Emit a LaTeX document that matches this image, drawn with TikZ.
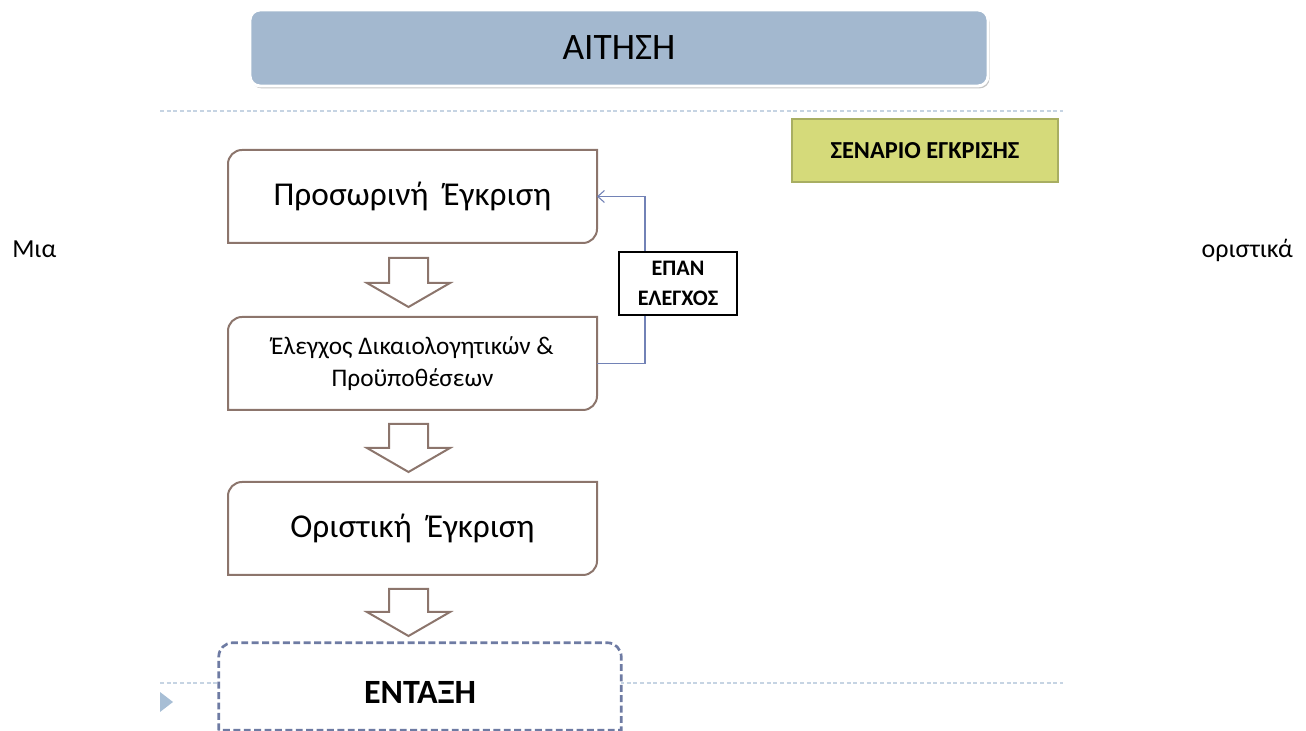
\documentclass[tikz,border=0pt]{standalone}
\usepackage{fontspec}
\setmainfont{Carlito}
\usetikzlibrary{arrows.meta,shadows}

\definecolor{titlefill}{HTML}{A3B8CF}
\definecolor{stepline}{HTML}{8C756C}
\definecolor{guideline}{HTML}{C6D4E3}
\definecolor{scenariofill}{HTML}{D5DA7A}
\definecolor{scenarioline}{HTML}{A8AE62}
\definecolor{loopline}{HTML}{7282B6}
\definecolor{goalline}{HTML}{6E7BA3}
\definecolor{bulletfill}{HTML}{A7BED5}

% frame with rounded top-left and bottom-right corners
\newcommand\stepframe[1]{%
  \draw[stepborder] (#1.south west) -- ([yshift=-10.5pt]#1.north west)
    arc[start angle=180,end angle=90,radius=10.5pt] -- (#1.north east)
    -- ([yshift=10.5pt]#1.south east)
    arc[start angle=0,end angle=-90,radius=10.5pt] -- cycle;}

% hollow block arrow pointing down: top, head base, tip
\newcommand\blockdown[3]{%
  \draw[blockarrow] (389,#1) -- (428,#1) -- (428,#2) -- (450,#2)
    -- (408.5,#3) -- (367,#2) -- (389,#2) -- cycle;}

\tikzset{
  stepbox/.style={draw=none, minimum width=276.75pt, minimum height=69.75pt,
    inner sep=0pt, outer sep=0pt, align=center},
  stepborder/.style={draw=stepline, line width=1.5pt},
  blockarrow/.style={draw=stepline, line width=1.5pt, fill=white, line join=miter},
  guide/.style={draw=guideline, line width=1.1pt, dash pattern=on 3pt off 2pt},
  conn/.style={draw=loopline, line width=0.8pt, -{Straight Barb[length=5pt,width=9pt]}},
}

\begin{document}
\begin{tikzpicture}[x=0.75pt,y=0.75pt]
\useasboundingbox (0,0) rectangle (1306,731);

% guide lines
\coordinate (g1a) at (160,620);
\coordinate (g1b) at (1063,620);
\coordinate (g2a) at (160,48);
\coordinate (g2b) at (1063,48);
\draw[guide] (g1a) -- (g1b);
\draw[guide] (g2a) -- (g2b);

% title
\node[draw=white, line width=2.2pt, fill=titlefill, rounded corners=7.5pt,
      minimum width=553.5pt, minimum height=57pt, inner sep=0pt,
      drop shadow={shadow xshift=1.2pt, shadow yshift=-1.8pt, opacity=0.45},
      font=\fontsize{28}{32}\selectfont] (title) at (619,683) {ΑΙΤΗΣΗ};

% scenario label
\node[draw=scenarioline, line width=1.2pt, fill=scenariofill,
      minimum width=199.5pt, minimum height=47.25pt, inner sep=0pt,
      font=\fontsize{18.3}{22}\selectfont\bfseries] (scen) at (925,580.5) {ΣΕΝΑΡΙΟ ΕΓΚΡΙΣΗΣ};

% steps
\node[stepbox, font=\fontsize{25}{30}\selectfont] (b1) at (412.5,534.5) {Προσωρινή\ \ Έγκριση};
\node[stepbox, font=\fontsize{19}{24}\selectfont] (b2) at (412.5,367.5)
  {Έλεγχος Δικαιολογητικών \&\\Προϋποθέσεων};
\node[stepbox, font=\fontsize{25}{30}\selectfont] (b3) at (412.5,202.5) {Οριστική\ \ Έγκριση};
\stepframe{b1}
\stepframe{b2}
\stepframe{b3}

\blockdown{473}{448}{424}
\blockdown{307}{283}{259}
\blockdown{142}{119}{95}

% re-check loop
\draw[conn] (b2.east) -- ++(48,0) |- (b1.east);
\node[draw=black, line width=1.4pt, fill=white, minimum width=88.5pt,
      minimum height=47.25pt, inner sep=0pt, align=center,
      font=\fontsize{16.6}{23}\selectfont\bfseries] (recheck) at (678,447.5)
      {\raisebox{-4.2pt}{\shortstack{ΕΠΑΝ\\[8.5pt]ΕΛΕΓΧΟΣ}}};

% final state
\node[fill=white, minimum width=301.5pt, minimum height=65.25pt, inner sep=0pt,
      font=\fontsize{25.5}{30}\selectfont\bfseries] (goal) at (420,44.5)
      {\raisebox{-13pt}[0pt][0pt]{ΕΝΤΑΞΗ}};
\draw[draw=goalline, line width=2pt, dash pattern=on 5.2pt off 2.6pt]
  (goal.south west) -- ([yshift=-10.5pt]goal.north west)
  arc[start angle=180,end angle=90,radius=10.5pt] -- ([xshift=-10.5pt]goal.north east)
  arc[start angle=90,end angle=0,radius=10.5pt] -- (goal.south east) -- cycle;

% bullet
\fill[bulletfill] (160,39) -- (173,29) -- (160,19) -- cycle;

% side text
\node[anchor=base west, inner sep=0pt, font=\fontsize{19.5}{24}\selectfont] (lt) at (12,473) {Μια};
\node[anchor=base east, inner sep=0pt, font=\fontsize{19.5}{24}\selectfont] (rt) at (1293,473) {οριστικά};
\end{tikzpicture}
\end{document}
